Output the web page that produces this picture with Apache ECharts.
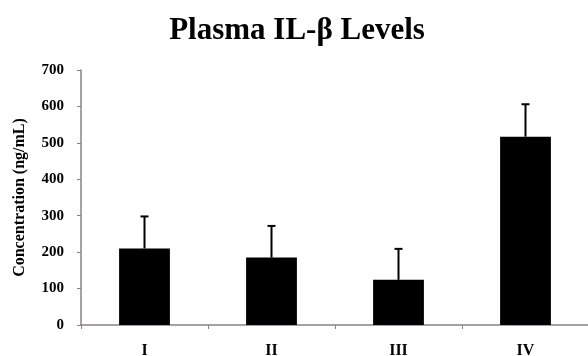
<!DOCTYPE html>
<html><head><meta charset="utf-8">
<script src="https://cdn.jsdelivr.net/npm/echarts@6/dist/echarts.min.js"></script>
<style>html,body{margin:0;padding:0;background:#fff}#c{width:588px;height:356px}</style>
</head><body><div id="c"></div>
<script>
var categories = ['I', 'II', 'III', 'IV'];
var means = [210, 185, 124, 517];
var errors = [88, 87, 85, 89];
var yTicks = [0, 100, 200, 300, 400, 500, 600, 700];

var chart = echarts.init(document.getElementById('c'));
var serif = '"Liberation Serif","DejaVu Serif",serif';
chart.setOption({
  animation: false,
  title: {
    text: 'Plasma IL-β Levels', left: 292, top: 10, textAlign: 'center',
    textStyle: { fontFamily: serif, fontWeight: 'bold', fontSize: 31, color: '#000' }
  },
  grid: { left: 81, right: -1, top: 70, bottom: 31, containLabel: false, outerBoundsMode: 'none' },
  xAxis: {
    type: 'category', data: categories,
    axisLine: { lineStyle: { color: '#8a808a', width: 1.5 } },
    axisTick: { show: true, alignWithLabel: false, length: 4, lineStyle: { color: '#8a808a' } },
    axisLabel: { fontFamily: serif, fontWeight: 'bold', fontSize: 16, color: '#000', margin: 18 }
  },
  yAxis: {
    type: 'value', min: yTicks[0], max: yTicks[yTicks.length - 1], interval: 100,
    name: 'Concentration (ng/mL)', nameLocation: 'middle', nameGap: 53, nameRotate: 90,
    nameTextStyle: { fontFamily: serif, fontWeight: 'bold', fontSize: 16, color: '#000' },
    axisLine: { show: true, lineStyle: { color: '#8a808a', width: 1.5 } },
    axisTick: { show: true, length: 4, lineStyle: { color: '#8a808a' } },
    splitLine: { show: false },
    axisLabel: { fontFamily: serif, fontWeight: 'bold', fontSize: 15, color: '#000', margin: 17 }
  },
  series: [
    { type: 'bar', data: means, barWidth: '40%', itemStyle: { color: '#000' } },
    {
      type: 'custom',
      data: means.map(function (m, i) { return [i, m, m + errors[i]]; }),
      renderItem: function (params, api) {
        var lo = api.coord([api.value(0), api.value(1)]);
        var hi = api.coord([api.value(0), api.value(2)]);
        var hw = 4;
        var st = { stroke: '#000', lineWidth: 2 };
        return { type: 'group', children: [
          { type: 'line', shape: { x1: lo[0], y1: lo[1], x2: hi[0], y2: hi[1] }, style: st },
          { type: 'line', shape: { x1: hi[0] - hw, y1: hi[1], x2: hi[0] + hw, y2: hi[1] }, style: st }
        ]};
      },
      z: 3
    }
  ]
});
</script></body></html>
